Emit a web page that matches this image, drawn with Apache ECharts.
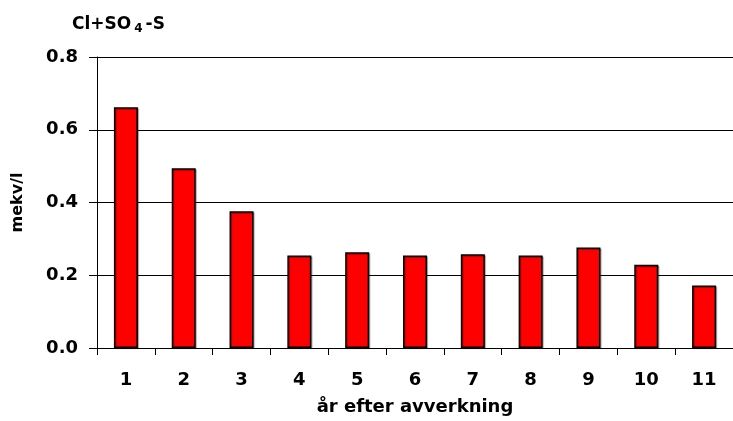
<!DOCTYPE html>
<html>
<head>
<meta charset="utf-8">
<script src="https://cdn.jsdelivr.net/npm/echarts@6/dist/echarts.min.js"></script>
<style>
  html, body { margin: 0; padding: 0; background: #fff; }
  #chart { width: 733px; height: 421px; }
</style>
</head>
<body>
<div id="chart"></div>
<script>
// years after felling and the measured Cl+SO4-S (mekv/l)
const years = ['1', '2', '3', '4', '5', '6', '7', '8', '9', '10', '11'];
const values = [0.662, 0.494, 0.376, 0.254, 0.263, 0.254, 0.258, 0.254, 0.276, 0.229, 0.172];
const yTicks = [0, 0.2, 0.4, 0.6, 0.8];

const chart = echarts.init(document.getElementById('chart'));

chart.setOption({
  animation: false,
  textStyle: { fontFamily: 'DejaVu Sans, sans-serif' },
  title: {
    text: '{a|Cl+SO}{s|4}{a|-S}',
    left: 67,
    top: 10,
    textStyle: {
      rich: {
        a: { fontSize: 17, fontWeight: 'bold', color: '#000', fontFamily: 'DejaVu Sans' },
        s: { fontSize: 12, fontWeight: 'bold', color: '#000', fontFamily: 'DejaVu Sans', padding: [8, 3, 0, 3] }
      }
    }
  },
  grid: { left: 97, right: -7, top: 57, bottom: 72, containLabel: false },
  xAxis: {
    type: 'category',
    data: years,
    name: 'år efter avverkning',
    nameLocation: 'middle',
    nameGap: 50,
    nameTextStyle: { fontSize: 18, fontWeight: 'bold', color: '#000' },
    axisLine: { lineStyle: { color: '#000', width: 1 } },
    axisTick: { show: true, length: 7, lineStyle: { color: '#000' } },
    axisLabel: { fontSize: 18, fontWeight: 'bold', color: '#000', margin: 23 }
  },
  yAxis: {
    type: 'value',
    min: yTicks[0],
    max: yTicks[yTicks.length - 1],
    interval: 0.2,
    name: 'mekv/l',
    nameLocation: 'middle',
    nameGap: 71,
    nameRotate: 90,
    nameTextStyle: { fontSize: 16, fontWeight: 'bold', color: '#000' },
    axisLine: { show: true, lineStyle: { color: '#000', width: 1 } },
    axisTick: { show: true, length: 8, lineStyle: { color: '#000' } },
    axisLabel: {
      fontSize: 18, fontWeight: 'bold', color: '#000', margin: 19,
      formatter: v => v.toFixed(1)
    },
    splitLine: { show: true, lineStyle: { color: '#000', width: 1 } }
  },
  series: [{
    type: 'bar',
    data: values,
    barWidth: 24,
    itemStyle: {
      color: '#ff0000',
      borderColor: '#000',
      borderWidth: 1.5,
      shadowColor: 'rgba(0,0,0,0.35)',
      shadowOffsetX: 1,
      shadowOffsetY: 1,
      shadowBlur: 1
    }
  }]
});
</script>
</body>
</html>
